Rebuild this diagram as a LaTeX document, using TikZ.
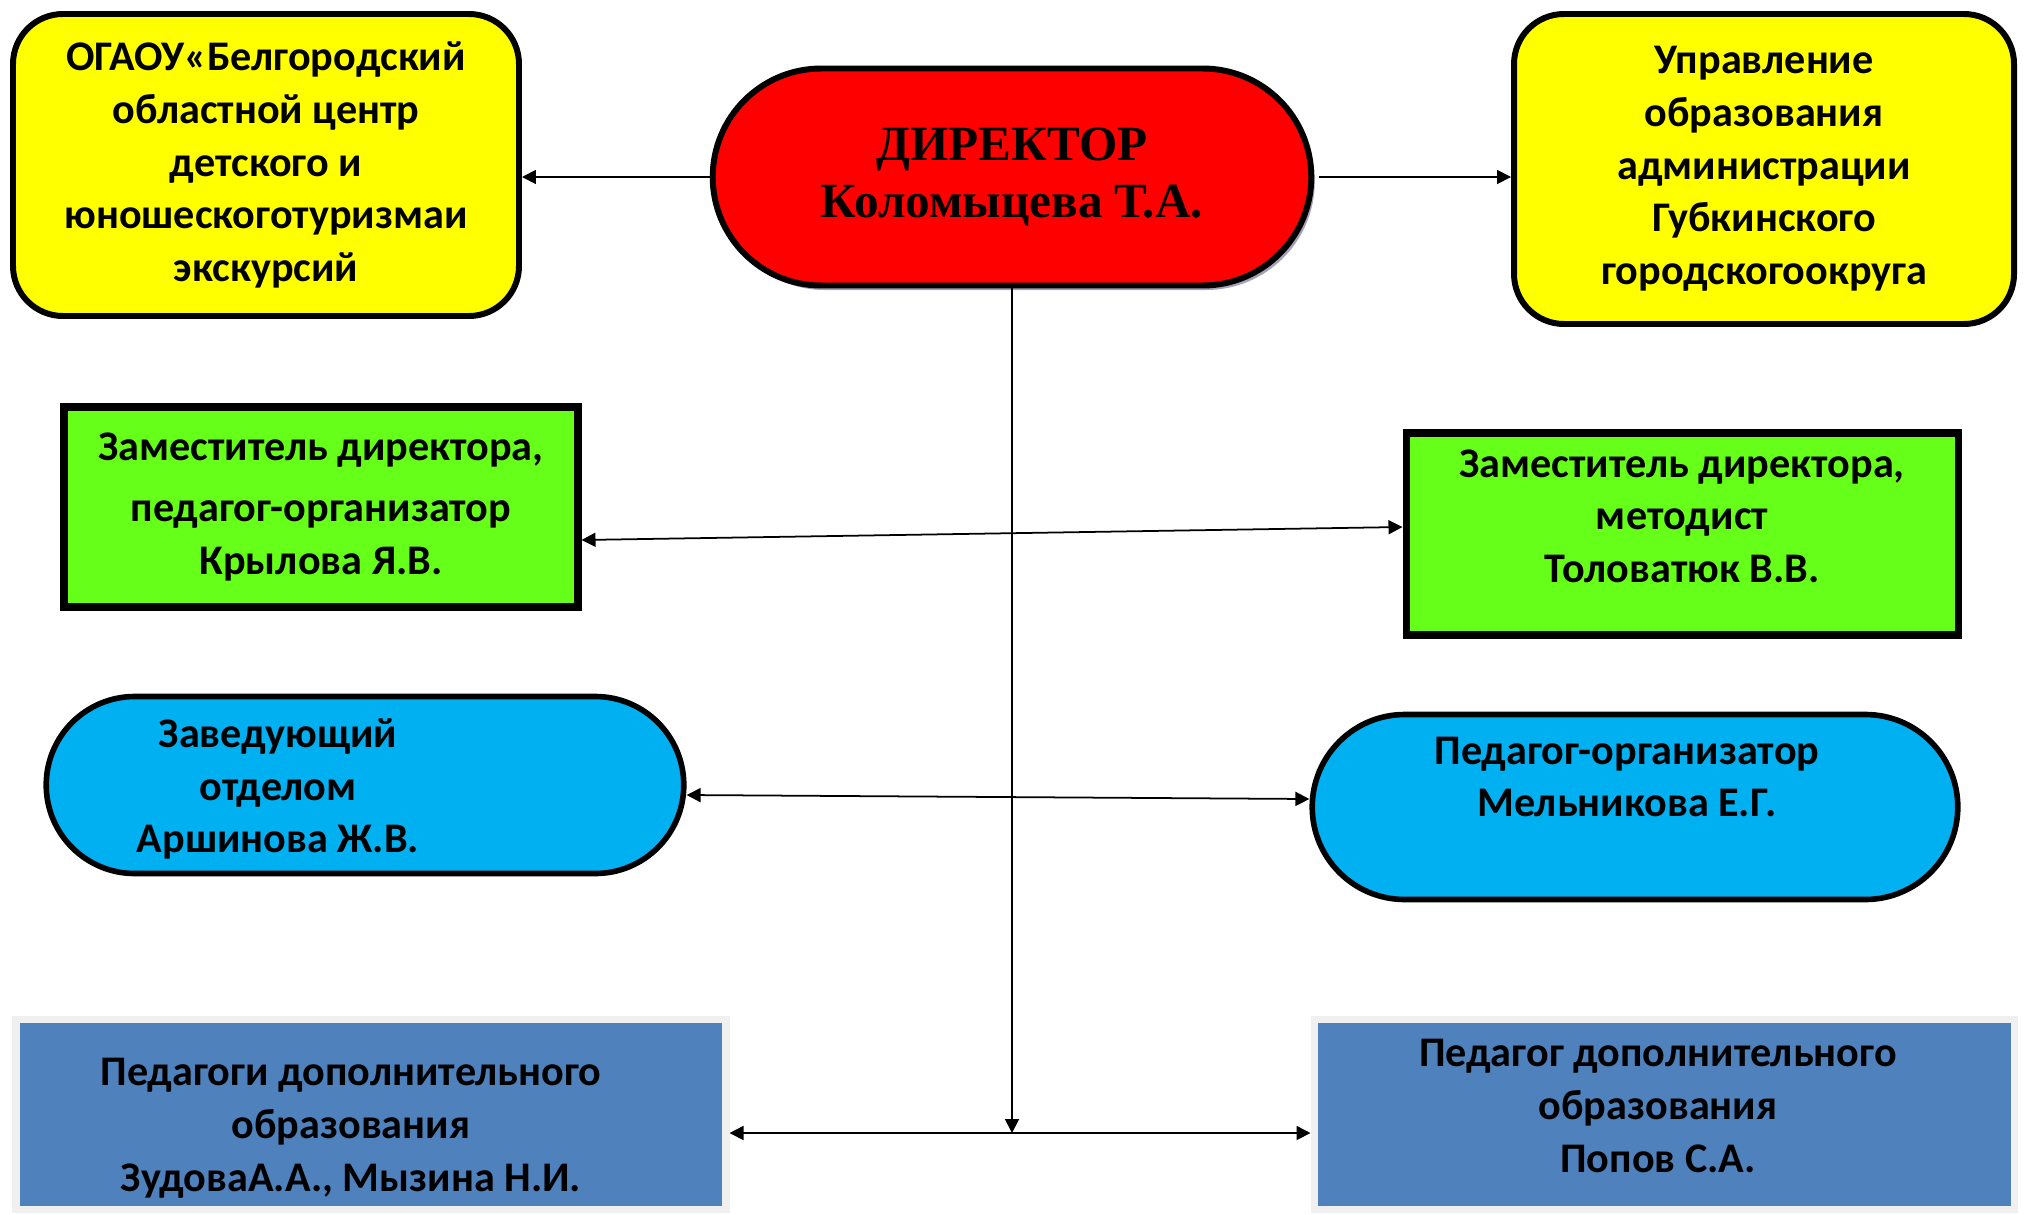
\documentclass[tikz,border=0pt]{standalone}
\usepackage{fontspec}
\setmainfont{Carlito}
\newfontfamily\directorfont{Liberation Serif}
\usepackage{tikz}
\usetikzlibrary{shapes.misc,shadows,arrows.meta}
\definecolor{boxyellow}{HTML}{FFFF00}
\definecolor{boxgreen}{HTML}{66FF1A}
\definecolor{boxcyan}{HTML}{00B0F0}
\definecolor{boxsteel}{HTML}{4F81BD}
\definecolor{boxgrey}{HTML}{F0F0F0}
\definecolor{shadowgrey}{HTML}{A8A2B6}
\tikzset{
    org-text/.style = {font=\bfseries\fontsize{12}{15}\selectfont, align=center},
    yellow-box/.style = {org-text, draw, fill=boxyellow, line width=1.7pt, rectangle, rounded corners=5mm},
    director-pill/.style = {draw, fill=red, line width=1.7pt, rounded rectangle, align=center,
        font=\directorfont\bfseries\fontsize{14}{16.2}\selectfont,
        drop shadow={shadow xshift=0.35mm, shadow yshift=-0.45mm, fill=shadowgrey, opacity=1}},
    green-box/.style = {org-text, draw, fill=boxgreen, line width=2pt, rectangle,
        drop shadow={shadow xshift=0.35mm, shadow yshift=-0.4mm, fill=shadowgrey, opacity=1}},
    blue-pill/.style = {draw, fill=boxcyan, line width=1.6pt, rounded rectangle},
    steel-box/.style = {draw=boxgrey, fill=boxsteel, line width=2pt, rectangle,
        drop shadow={shadow xshift=0.3mm, shadow yshift=-0.3mm, fill=shadowgrey!70, opacity=1}},
    link/.style = {line width=0.5pt, -{Triangle[length=1.4mm,width=1.4mm]}},
    link-both/.style = {line width=0.5pt, {Triangle[length=1.4mm,width=1.4mm]}-{Triangle[length=1.4mm,width=1.4mm]}},
}

\begin{document}
\begin{tikzpicture}[x=0.1mm, y=-0.1mm]
\useasboundingbox (0,0) rectangle (2031,1214);

% top row
\node [yellow-box, minimum width=50.6mm, minimum height=30.2mm] (centre) at (266,165)
    {ОГАОУ«Белгородский\\областной центр\\детского и\\юношескоготуризмаи\\экскурсий};
\node [director-pill, minimum width=62.2mm, minimum height=21.7mm] (director) at (1012,177)
    {ДИРЕКТОР\\Коломыцева Т.А.};
\node [yellow-box, minimum width=50mm, minimum height=31mm] (upravlenie) at (1764,169)
    {Управление\\образования\\администрации\\Губкинского\\городскогоокруга};

% deputies
\node [green-box, minimum width=51.4mm, minimum height=20mm] (deputy-org) at (321,507)
    {Заместитель директора,\\[0.8mm]педагог-организатор\\Крылова Я.В.};
\node [green-box, minimum width=55.2mm, minimum height=20.2mm] (deputy-method) at (1682,534)
    {Заместитель директора,\\методист\\Толоватюк В.В.\\[-1.7mm]};

% heads
\node [blue-pill, minimum width=66.1mm, minimum height=17.7mm,
    label={[org-text, xshift=-8.7mm, yshift=-0.4mm]center:{Заведующий\\отделом\\Аршинова Ж.В.}}]
    (head) at (365,785) {};
\node [blue-pill, minimum width=66.9mm, minimum height=18.5mm,
    label={[org-text, xshift=-0.8mm, yshift=3mm]center:{Педагог-организатор\\Мельникова Е.Г.}}]
    (organizer) at (1635,807) {};

% teachers
\node [steel-box, minimum width=71mm, minimum height=19mm,
    label={[org-text, xshift=-2mm, yshift=-1.4mm]center:{Педагоги дополнительного\\образования\\ЗудоваА.А., Мызина Н.И.}}]
    (teachers) at (371,1114) {};
\node [steel-box, minimum width=70mm, minimum height=19mm,
    label={[org-text, xshift=-0.6mm, yshift=0.8mm]center:{Педагог дополнительного\\образования\\Попов С.А.}}]
    (teacher) at (1664,1114) {};

% links
\coordinate (hub) at (director.south |- 0,1133);
\draw [link] (director.west) -- (director.west -| centre.east);
\draw [link] ([xshift=0.5mm]director.east) -- (director.east -| upravlenie.west);
\draw [link] (director.south) -- (hub);
\draw [link-both] ([yshift=-3.3mm]deputy-org.east) -- ([yshift=0.7mm]deputy-method.west);
\draw [link-both] ([yshift=-1mm]head.east) -- ([yshift=0.8mm]organizer.west);
\draw [link-both] (hub -| teachers.east) -- (hub -| teacher.west);
\end{tikzpicture}
\end{document}
